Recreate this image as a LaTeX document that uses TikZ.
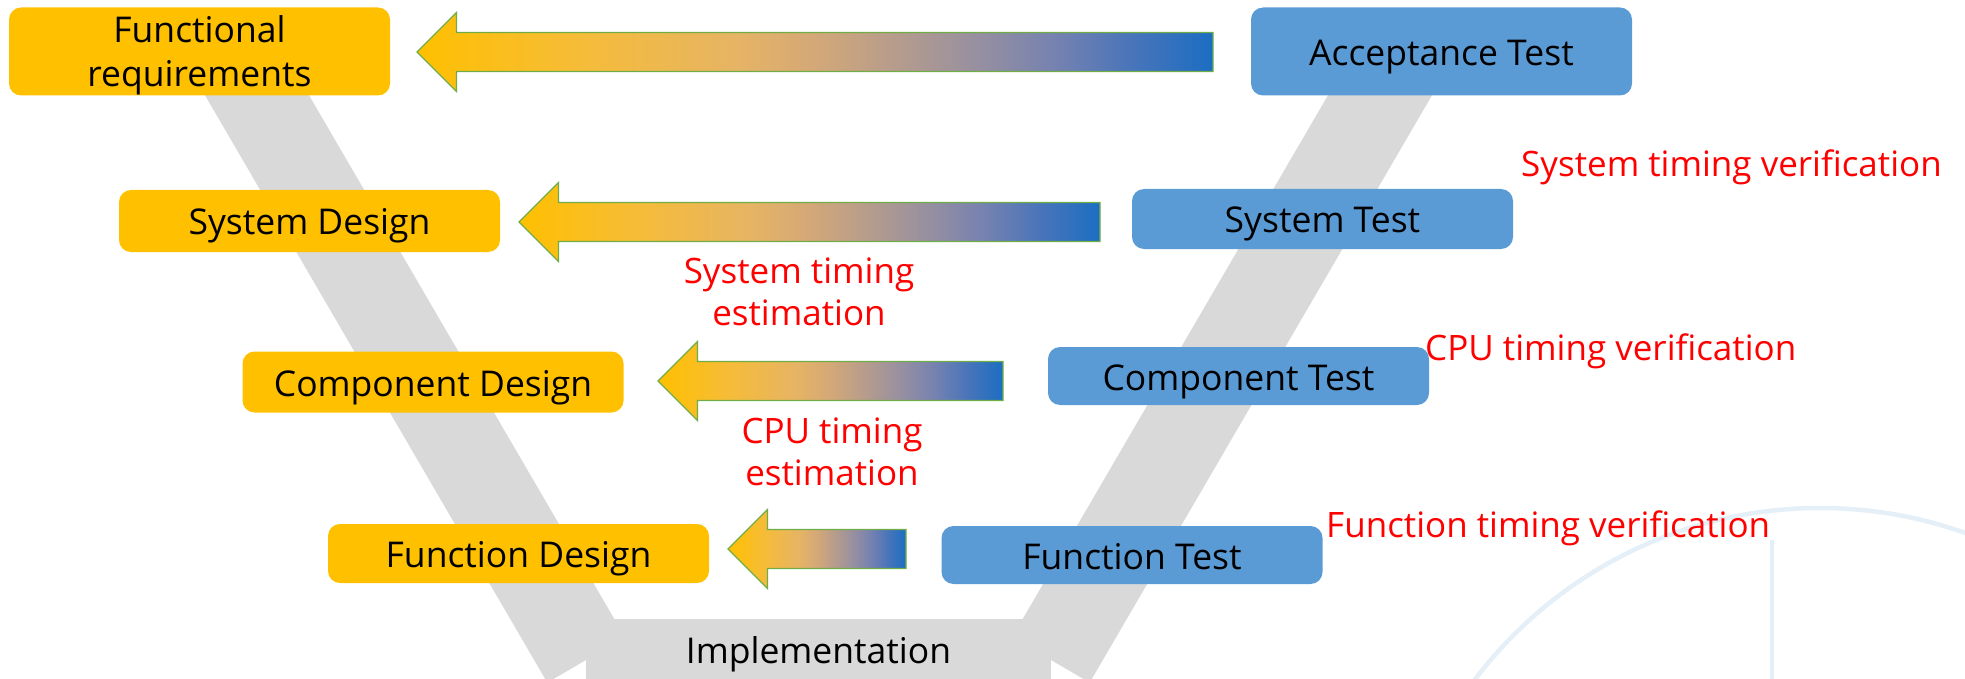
\documentclass[tikz,border=0pt]{standalone}
\usepackage{fontspec}
\setmainfont{Open Sans}
\usetikzlibrary{calc}
\definecolor{boxorange}{RGB}{255,192,0}
\definecolor{boxblue}{RGB}{91,155,213}
\definecolor{vgray}{RGB}{217,217,217}
\definecolor{arrowgreen}{RGB}{112,173,71}
\definecolor{labelred}{RGB}{255,0,0}
\definecolor{wmblue}{RGB}{229,239,247}
\pgfdeclarehorizontalshading{arrowgrad}{100bp}{rgb(0bp)=(1,0.753,0); rgb(25bp)=(1,0.753,0); rgb(35bp)=(0.965,0.737,0.216); rgb(45bp)=(0.902,0.706,0.392); rgb(50bp)=(0.831,0.659,0.471); rgb(55bp)=(0.714,0.612,0.549); rgb(60bp)=(0.596,0.565,0.627); rgb(65bp)=(0.463,0.510,0.690); rgb(70bp)=(0.282,0.455,0.729); rgb(75bp)=(0.106,0.431,0.761); rgb(100bp)=(0.106,0.431,0.761)}
\newcommand\blockarrow[2]{\path[arrowbody] let \p1=(#1), \p2=(#2) in (\x1,\y1) -- (\x1+39.5pt,\y1+39.5pt) -- (\x1+39.5pt,\y1+19.5pt) -- (\x2,\y1+19.5pt) -- (\x2,\y1-19.5pt) -- (\x1+39.5pt,\y1-19.5pt) -- (\x1+39.5pt,\y1-39.5pt) -- cycle;}
\begin{document}
\begin{tikzpicture}[x=1pt,y=-1pt,
  every node/.style={font=\fontsize{35.5}{41}\selectfont, inner sep=0pt},
  onebox/.style={text height=28pt, text depth=0pt},
  dbox/.style={fill=boxorange, rounded corners=12pt, minimum width=381pt, align=center, text=black},
  tbox/.style={fill=boxblue, rounded corners=12pt, minimum width=381pt, text=black},
  redlabel/.style={text=labelred, font=\fontsize{35}{42}\selectfont},
  twoline/.style={align=center},
  arm/.style={fill=vgray},
  arrowbody/.style={shade, shading=arrowgrad, draw=arrowgreen, line width=1.3pt, line join=miter}]
\useasboundingbox (0,0) rectangle (1965,679);
\clip (0,0) rectangle (1965,679);
% faint background watermark
\draw[wmblue, line width=4.5pt] (1820,941) circle[radius=433pt];
\draw[wmblue, line width=3.5pt] (1772,540) -- (1772,679);
% V shape
\fill[arm] (172.8,40) -- (276.8,40) -- (625,637.3) -- (547.3,682.6) -- cycle;
\fill[arm] (1360.2,40) -- (1464.2,40) -- (1089.7,682.6) -- (1012,637.3) -- cycle;
\node[fill=vgray, minimum width=465pt, minimum height=70pt] (impl) at (818.5,654) {Implementation};
% block arrows
\coordinate (a1tip) at (417,52);  \coordinate (a1end) at (1213,52);
\coordinate (a2tip) at (519,222); \coordinate (a2end) at (1100,222);
\coordinate (a3tip) at (658,381); \coordinate (a3end) at (1003,381);
\coordinate (a4tip) at (728,549); \coordinate (a4end) at (906,549);
\blockarrow{a1tip}{a1end}
\blockarrow{a2tip}{a2end}
\blockarrow{a3tip}{a3end}
\blockarrow{a4tip}{a4end}
% boxes
\node[dbox, minimum height=88pt, font=\fontsize{35.5}{44}\selectfont, text depth=0pt] (fr) at (199.5,51.5) {Functional\\requirements};
\node[tbox, onebox, minimum height=88pt] (at) at (1441.5,51.5) {Acceptance Test};
\node[dbox, onebox, minimum height=62pt] (sd) at (309.5,221) {System Design};
\node[tbox, onebox, minimum height=60pt] (st) at (1322.5,219) {System Test};
\node[dbox, onebox, minimum height=61pt] (cd) at (433,382) {Component Design};
\node[tbox, onebox, minimum height=58pt] (ct) at (1238.5,376) {Component Test};
\node[dbox, onebox, minimum height=59pt] (fd) at (518.5,553.5) {Function Design};
\node[tbox, onebox, minimum height=58pt] (ft) at (1132,555) {Function Test};
% red labels
\node[redlabel, anchor=base west] (stv) at (1521,177) {System timing verification};
\node[redlabel, anchor=base west] (cpuv) at (1425,360) {CPU timing verification};
\node[redlabel, anchor=base west] (ftv) at (1326,537) {Function timing verification};
\node[redlabel, twoline] (ste) at (799,292) {System timing\\estimation};
\node[redlabel, twoline] (cpue) at (832,452) {CPU timing\\estimation};
\end{tikzpicture}
\end{document}
